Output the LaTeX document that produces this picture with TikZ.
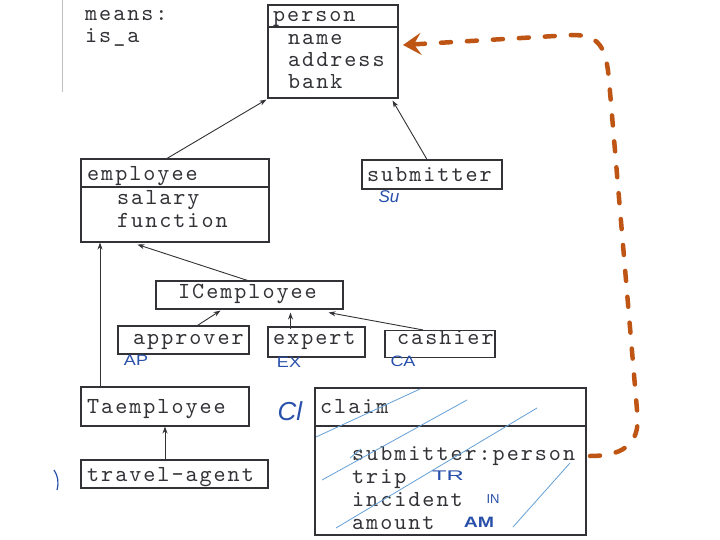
\documentclass[tikz,border=0pt]{standalone}
\usepackage{fontspec}
\setmonofont{lmmono10-regular.otf}[LetterSpace=8.6]
\setsansfont{Liberation Sans}
\usetikzlibrary{arrows.meta,calc}
\definecolor{ink}{RGB}{50,50,55}
\definecolor{pen}{RGB}{40,80,170}
\definecolor{hatch}{RGB}{100,160,215}
\definecolor{marker}{RGB}{190,85,20}
\begin{document}
\begin{tikzpicture}[x=1pt,y=-1pt,
  box/.style={draw=ink,line width=1.1pt,inner sep=0pt},
  txt/.style={anchor=base west,inner sep=0pt,text=ink,font=\ttfamily\fontsize{23}{23}\selectfont},
  note/.style={text=pen,inner sep=0pt,font=\sffamily\fontsize{15}{15}\selectfont},
  isa/.style={draw=ink,line width=0.9pt,-{Stealth[length=7pt,width=5pt]}},
  link/.style={draw=marker,line width=4.5pt,line cap=round,dash pattern=on 10pt off 16pt,-{Stealth[length=18pt,width=22pt,inset=7pt]}},
  hatchline/.style={draw=hatch,line width=0.8pt},
  sep/.style={draw=ink,line width=1.1pt}
]
\useasboundingbox (0,0) rectangle (720,540);
\fill[white] (0,0) rectangle (720,540);
\draw[black!25,line width=0.8pt] (62,0) -- (62,92);

% legend
\node[txt] (means) at (85,21) {means:};
\node[txt] (isa) at (85,43) {is\_a};

% boxes
\node[box,minimum width=130pt,minimum height=93pt] (person) at (333,51.5) {};
\draw[sep] (person.west |- 0,27) -- (person.east |- 0,27);
\node[txt] (tperson) at (273,22) {person};
\node[txt] (tname) at (288,45) {name};
\node[txt] (taddr) at (288,67) {address};
\node[txt] (tbank) at (288,89) {bank};

\node[box,minimum width=188pt,minimum height=83pt] (employee) at (175,200.5) {};
\draw[sep] (employee.west |- 0,187) -- (employee.east |- 0,187);
\node[txt] (temp) at (87,181) {employee};
\node[txt] (tsal) at (117,205) {salary};
\node[txt] (tfun) at (117,228) {function};

\node[box,minimum width=140pt,minimum height=29pt] (submitter) at (432,174.5) {};
\node[txt] (tsub) at (367,182) {submitter};

\node[box,minimum width=187pt,minimum height=28pt] (icemp) at (249.5,295) {};
\node[txt] (tice) at (178,298) {ICemployee};

\node[box,minimum width=131pt,minimum height=28pt] (approver) at (183.5,340) {};
\node[txt] (tapp) at (133,344) {approver};
\node[box,minimum width=97pt,minimum height=30pt] (expert) at (316.5,342) {};
\node[txt] (texp) at (273,344) {expert};
\node[box,minimum width=110pt,minimum height=27pt] (cashier) at (440,344) {};
\node[txt] (tcash) at (397,344) {cashier};

\node[box,minimum width=168pt,minimum height=39pt] (taemp) at (165,406.5) {};
\node[txt] (ttae) at (87,413) {Taemployee};
\node[box,minimum width=187pt,minimum height=28pt] (travel) at (174.5,474) {};
\node[txt] (ttra) at (87,481) {travel-agent};

\node[box,minimum width=271pt,minimum height=147pt] (claim) at (450.5,461.5) {};
\draw[sep] (claim.west |- 0,426) -- (claim.east |- 0,426);
\node[txt] (tclaim) at (320,413) {claim};
\node[txt] (tsp) at (352,460) {submitter:person};
\node[txt] (ttrip) at (352,483) {trip};
\node[txt] (tinc) at (352,506) {incident};
\node[txt] (tamt) at (352,529) {amount};

% hatch
\draw[hatchline] (316,437) -- (420,389);
\draw[hatchline] (322,480) -- (467,400);
\draw[hatchline] (336,528) -- (537,408);
\draw[hatchline] (350,458) -- (361,449);
\draw[hatchline] (513,527) -- (570,463);

% handwritten notes
\node[note,font=\sffamily\itshape\fontsize{17}{17}\selectfont] (nsu) at (389,197) {Su};
\node[note,xscale=1.2] (nap) at (136,360) {AP};
\node[note,xscale=1.2] (nex) at (289,362) {EX};
\node[note,xscale=1.2] (nca) at (403,361) {CA};
\node[note,font=\sffamily\itshape\fontsize{26}{26}\selectfont] (ncl) at (290,411) {Cl};
\node[note,xscale=1.7,font=\sffamily\fontsize{14}{14}\selectfont] (ntr) at (448,476) {TR};
\node[note,font=\sffamily\fontsize{13}{13}\selectfont] (nin) at (493,499) {IN};
\node[note,xscale=1.3,font=\sffamily\bfseries\fontsize{15}{15}\selectfont] (nam) at (479,522) {AM};
\draw[pen,line width=1.2pt] (54,470) .. controls (58,476) and (59,482) .. (57,490);

% is_a connectors
\draw[isa] ([xshift=-8pt]employee.north) -- ([xshift=-1pt,yshift=-1pt]person.south west);
\draw[isa] ([xshift=-5pt]submitter.north) -- ([xshift=-6pt,yshift=-2pt]person.south east);
\draw[isa] ([xshift=-2pt]icemp.north) -- ([xshift=57pt,yshift=-2pt]employee.south west);
\draw[isa] ([xshift=14pt]approver.north) -- ([xshift=-29pt,yshift=-1pt]icemp.south);
\draw[isa] ([xshift=-26pt,yshift=-3pt]expert.north) -- ([xshift=41pt,yshift=-3pt]icemp.south);
\draw[isa] ([xshift=-17pt]cashier.north) -- ([xshift=-15pt,yshift=-3pt]icemp.south east);
\draw[isa] (taemp.north -| 100,0) -- (employee.south -| 100,0);
\draw[isa] (travel.north -| 165,0) -- (taemp.south -| 165,0);

% dashed reference arrow
\coordinate (cs) at (590,456);
\coordinate (ce) at (403,45);
\draw[link] (cs) .. controls (628,456) and (641,440) .. (637,410) -- (609,80) .. controls (606,45) and (598,35) .. (572,35) -- (ce);
\end{tikzpicture}
\end{document}
